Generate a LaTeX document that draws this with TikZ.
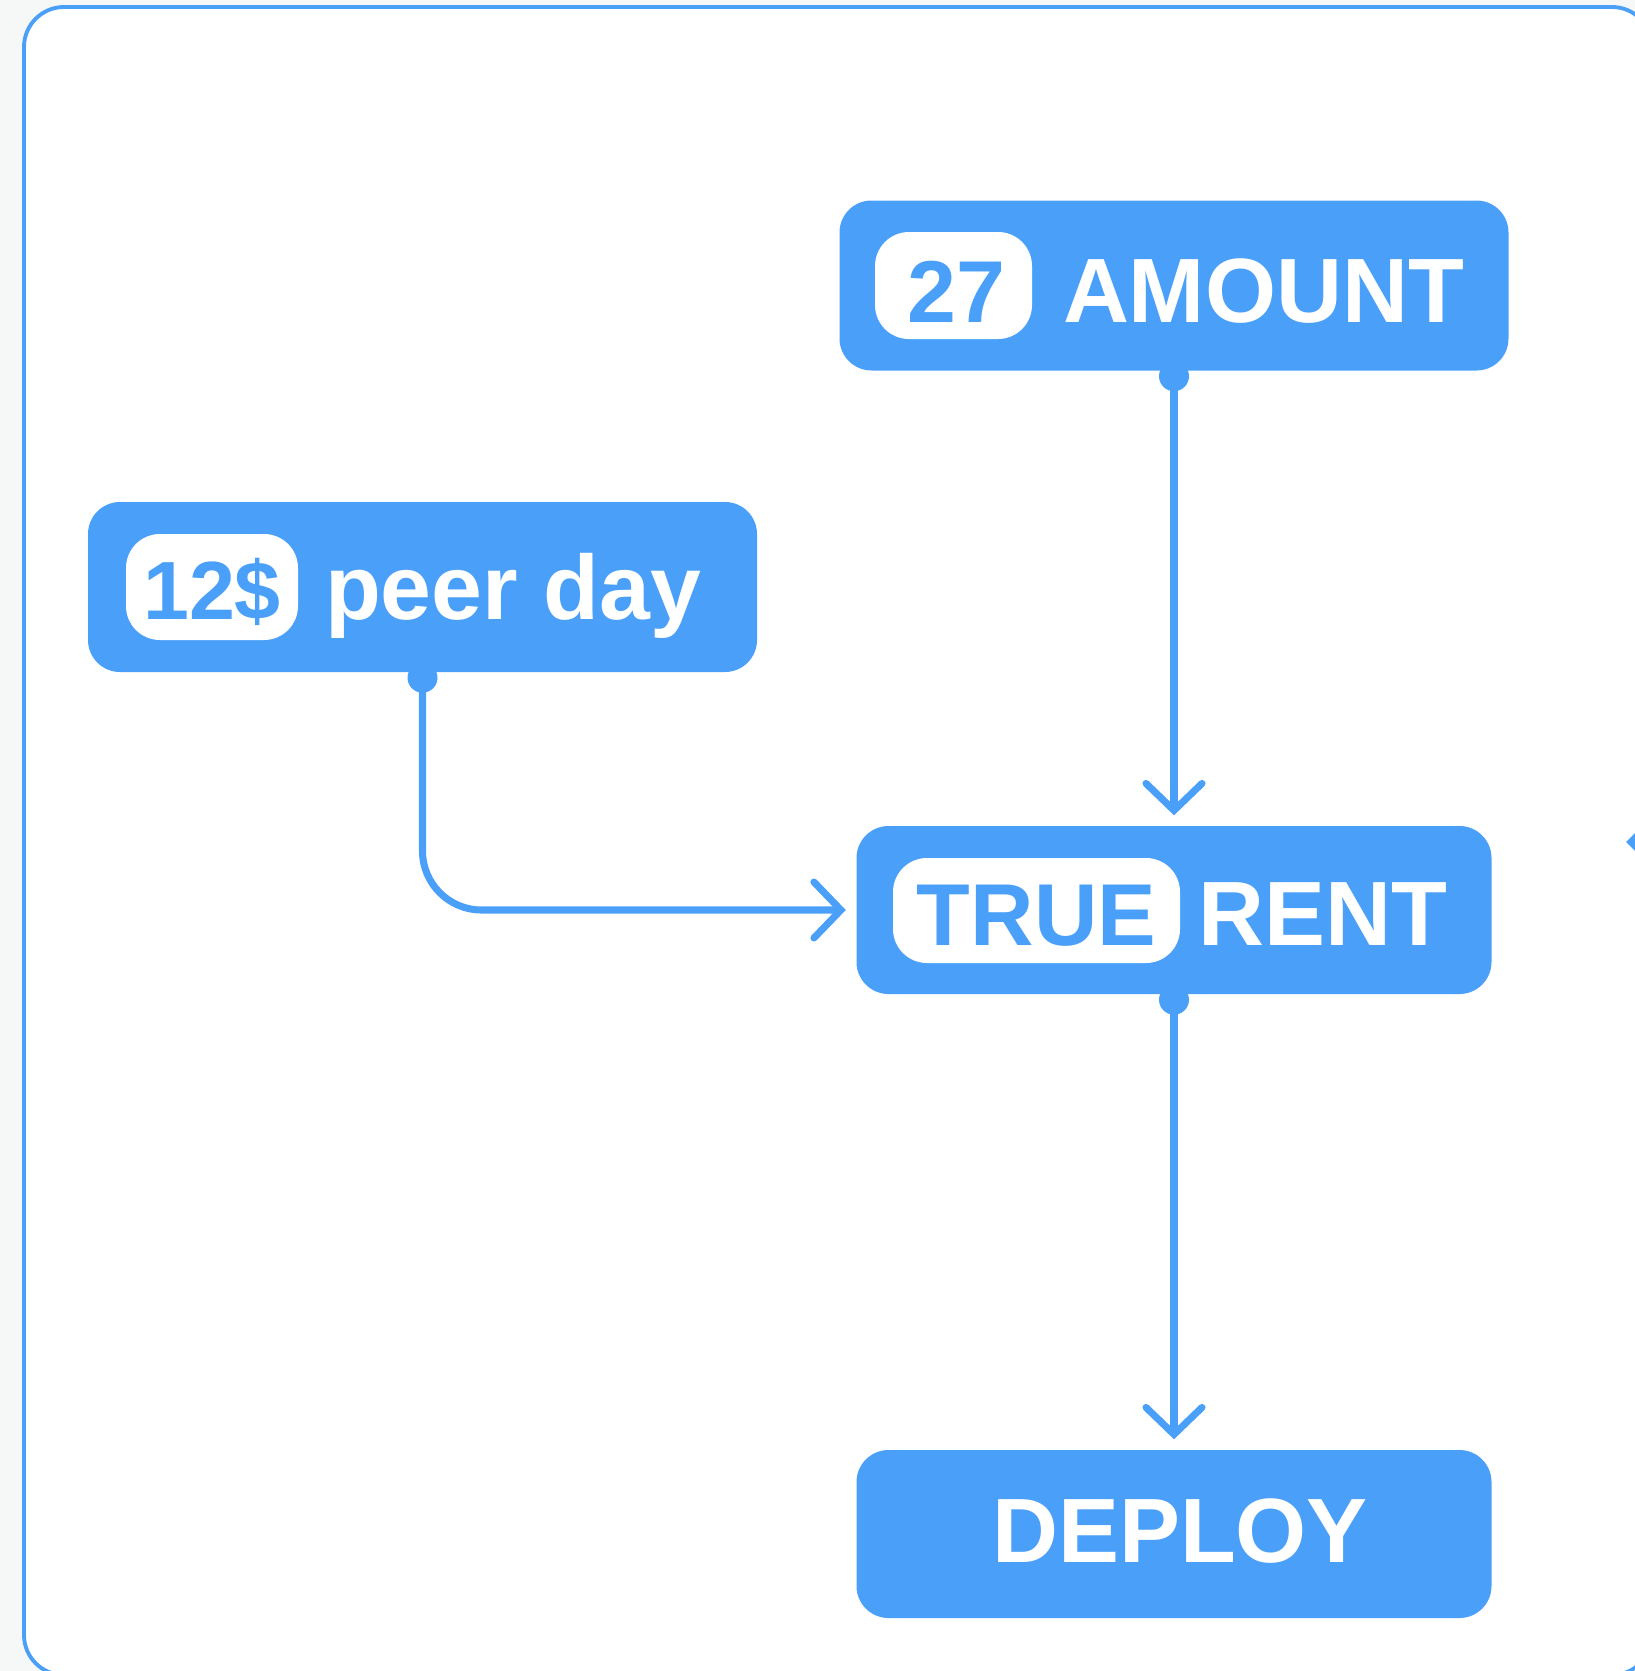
\documentclass[tikz,border=0pt]{standalone}
\usepackage{fontspec}
\setmainfont{Liberation Sans}
\usetikzlibrary{arrows.meta}
\definecolor{Blue}{RGB}{74,160,248}
\definecolor{Back}{RGB}{246,247,247}

\begin{document}
\begin{tikzpicture}[
  x=1cm, y=-1cm,
  card/.style={fill=Blue,rounded corners=0.32cm,inner sep=0pt,minimum height=1.7cm},
  pill/.style={fill=white,rounded corners=0.34cm,inner sep=0pt,minimum height=1.06cm},
  cardtext/.style={text=white,inner sep=0pt,anchor=base,font=\bfseries\fontsize{26}{30}\selectfont},
  pilltext/.style={cardtext,text=Blue,font=\bfseries\fontsize{25}{30}\selectfont},
  wire/.style={draw=Blue,line width=2pt,shorten >=0.1cm,
    -{Straight Barb[length=0.27cm,width=0.56cm,line cap=round]}},
  ]
  \useasboundingbox (0,0) rectangle (16.35,16.71);
  \fill[Back] (0,0) rectangle (16.35,16.71);
  \draw[Blue,line width=1.1pt,rounded corners=0.4cm,fill=white] (0.24,0.07) rectangle (16.52,16.75);
  % cut-off tip at the right edge
  \coordinate (edgea) at (16.41,8.32);
  \coordinate (edgeb) at (16.31,8.42);
  \coordinate (edgec) at (16.41,8.52);
  \draw[Blue,line width=2pt,line cap=round] (edgea) -- (edgeb) -- (edgec);

  % cards
  \node[card,minimum width=6.69cm] (amount) at (11.74,2.855) {};
  \node[pill,minimum width=1.57cm,minimum height=1.07cm] (amountval) at (9.535,2.855) {};
  \node[pilltext] (amountnum) at (9.565,3.22) {27};
  \node[cardtext] (amountlbl) at (12.635,3.22) {AMOUNT};

  \node[card,minimum width=6.69cm] (peer) at (4.225,5.87) {};
  \node[pill,minimum width=1.72cm] (peerval) at (2.12,5.87) {};
  \node[pilltext,font=\bfseries\fontsize{23.5}{30}\selectfont] (peernum) at (2.12,6.19) {12\$};
  \node[cardtext] (peerlbl) at (5.13,6.19) {peer day};

  \node[card,minimum width=6.35cm,minimum height=1.68cm] (rent) at (11.74,9.10) {};
  \node[pill,minimum width=2.87cm,minimum height=1.05cm] (rentval) at (10.365,9.105) {};
  \node[pilltext] (rentflag) at (10.365,9.45) {TRUE};
  \node[cardtext] (rentlbl) at (13.225,9.45) {RENT};

  \node[card,minimum width=6.35cm,minimum height=1.68cm] (deploy) at (11.74,15.34) {};
  \node[cardtext] (deploylbl) at (11.80,15.62) {DEPLOY};

  % connectors
  \draw[wire] (amount.south) -- (rent.north);
  \draw[wire,rounded corners=0.59cm] (peer.south) |- (rent.west);
  \draw[wire] (rent.south) -- (deploy.north);
  \foreach \n in {amount,peer,rent}
    \fill[Blue] ([yshift=-0.05cm]\n.south) circle (0.15);
\end{tikzpicture}
\end{document}
